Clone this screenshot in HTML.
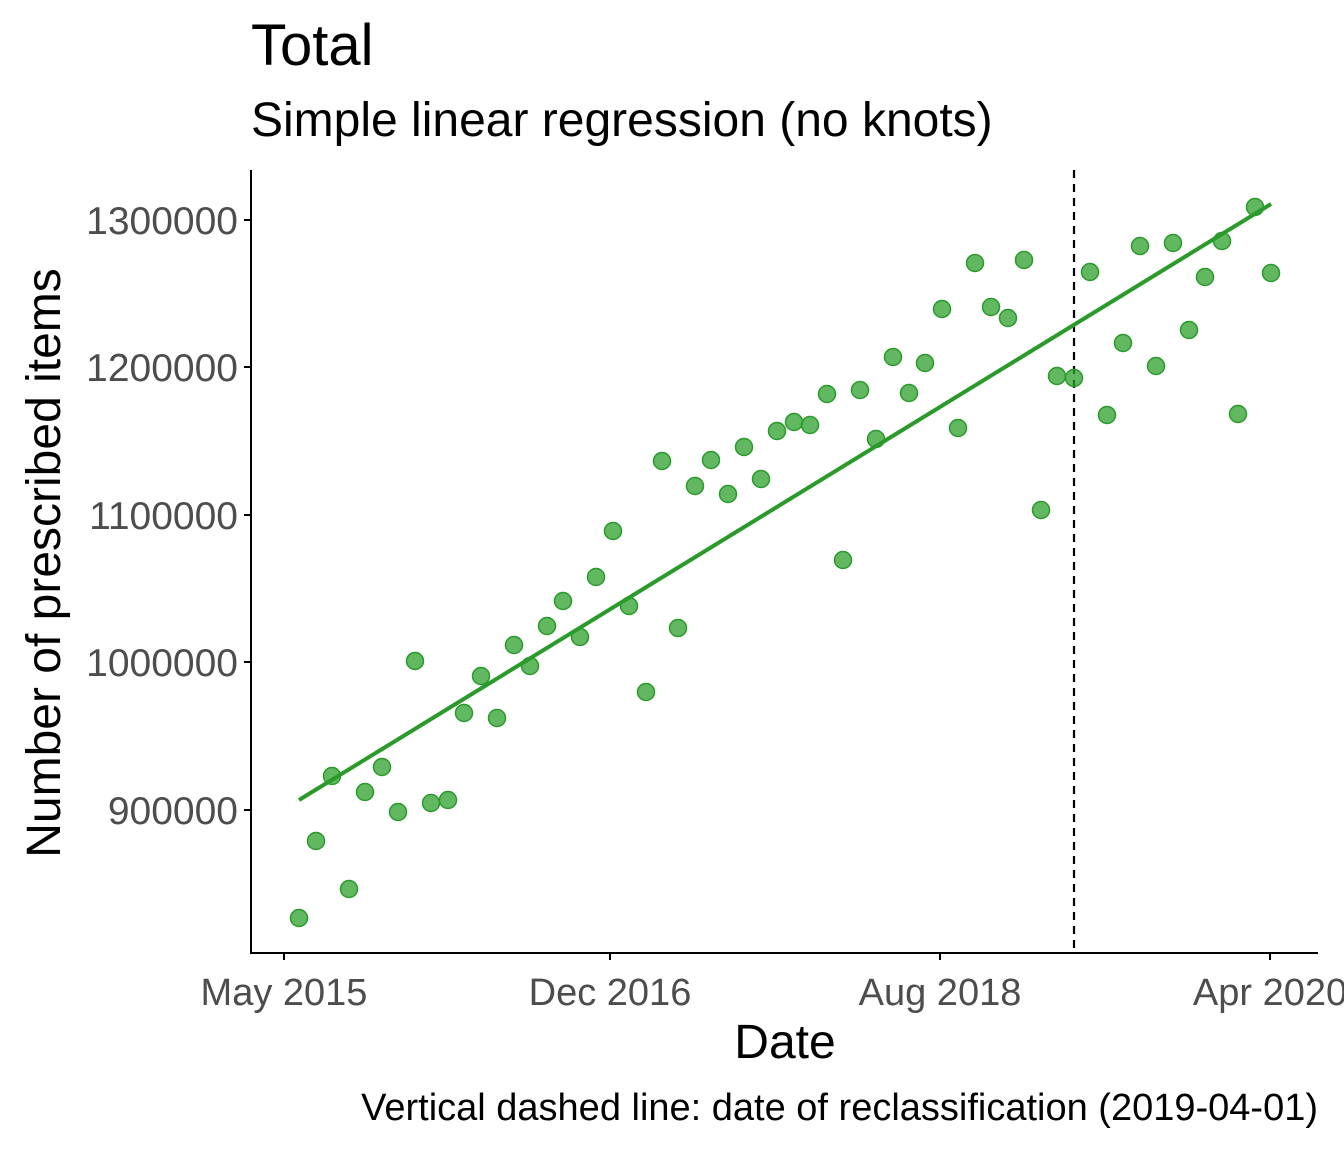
<!DOCTYPE html>
<html><head><meta charset="utf-8"><style>
html,body{margin:0;padding:0;background:#fff;}
svg{display:block;font-family:"Liberation Sans",Arial,sans-serif;}
</style></head><body>
<svg width="1344" height="1152" viewBox="0 0 1344 1152" xmlns="http://www.w3.org/2000/svg">
<rect width="1344" height="1152" fill="#fff"/>
<text x="251" y="65" font-size="58" fill="#000">Total</text>
<text x="251" y="136" font-size="48" fill="#000">Simple linear regression (no knots)</text>
<line x1="1074" y1="170" x2="1074" y2="953" stroke="#000" stroke-width="2.2" stroke-dasharray="8,6"/>
<g fill="#2ca02c" fill-opacity="0.75" stroke="#2a9a2a" stroke-width="1.5">
<circle cx="299" cy="918" r="8.5"/><circle cx="316" cy="841" r="8.5"/><circle cx="332" cy="776" r="8.5"/><circle cx="349" cy="889" r="8.5"/><circle cx="365" cy="792" r="8.5"/><circle cx="382" cy="767" r="8.5"/><circle cx="398" cy="812" r="8.5"/><circle cx="415" cy="661" r="8.5"/><circle cx="431" cy="803" r="8.5"/><circle cx="448" cy="800" r="8.5"/><circle cx="464" cy="713" r="8.5"/><circle cx="481" cy="676" r="8.5"/><circle cx="497" cy="718" r="8.5"/><circle cx="514" cy="645" r="8.5"/><circle cx="530" cy="666" r="8.5"/><circle cx="547" cy="626" r="8.5"/><circle cx="563" cy="601" r="8.5"/><circle cx="580" cy="637" r="8.5"/><circle cx="596" cy="577" r="8.5"/><circle cx="613" cy="531" r="8.5"/><circle cx="629" cy="606" r="8.5"/><circle cx="646" cy="692" r="8.5"/><circle cx="662" cy="461" r="8.5"/><circle cx="678" cy="628" r="8.5"/><circle cx="695" cy="486" r="8.5"/><circle cx="711" cy="460" r="8.5"/><circle cx="728" cy="494" r="8.5"/><circle cx="744" cy="447" r="8.5"/><circle cx="761" cy="479" r="8.5"/><circle cx="777" cy="431" r="8.5"/><circle cx="794" cy="422" r="8.5"/><circle cx="810" cy="425" r="8.5"/><circle cx="827" cy="394" r="8.5"/><circle cx="843" cy="560" r="8.5"/><circle cx="860" cy="390" r="8.5"/><circle cx="876" cy="439" r="8.5"/><circle cx="893" cy="357" r="8.5"/><circle cx="909" cy="393" r="8.5"/><circle cx="925" cy="363" r="8.5"/><circle cx="942" cy="309" r="8.5"/><circle cx="958" cy="428" r="8.5"/><circle cx="975" cy="263" r="8.5"/><circle cx="991" cy="307" r="8.5"/><circle cx="1008" cy="318" r="8.5"/><circle cx="1024" cy="260" r="8.5"/><circle cx="1041" cy="510" r="8.5"/><circle cx="1057" cy="376" r="8.5"/><circle cx="1074" cy="378" r="8.5"/><circle cx="1090" cy="272" r="8.5"/><circle cx="1107" cy="415" r="8.5"/><circle cx="1123" cy="343" r="8.5"/><circle cx="1140" cy="246" r="8.5"/><circle cx="1156" cy="366" r="8.5"/><circle cx="1173" cy="243" r="8.5"/><circle cx="1189" cy="330" r="8.5"/><circle cx="1205" cy="277" r="8.5"/><circle cx="1222" cy="241" r="8.5"/><circle cx="1238" cy="414" r="8.5"/><circle cx="1255" cy="207" r="8.5"/><circle cx="1271" cy="273" r="8.5"/>
</g>
<line x1="299" y1="800" x2="1271" y2="204" stroke="#2a9a2a" stroke-width="4"/>
<g stroke="#000" stroke-width="2">
<line x1="251" y1="170" x2="251" y2="954"/>
<line x1="250" y1="953" x2="1318" y2="953"/>
<line x1="244" y1="220" x2="251" y2="220"/><line x1="244" y1="367" x2="251" y2="367"/><line x1="244" y1="515" x2="251" y2="515"/><line x1="244" y1="662" x2="251" y2="662"/><line x1="244" y1="810" x2="251" y2="810"/>
<line x1="284" y1="953" x2="284" y2="960"/><line x1="610" y1="953" x2="610" y2="960"/><line x1="940" y1="953" x2="940" y2="960"/><line x1="1270" y1="953" x2="1270" y2="960"/>
</g>
<g font-size="39" fill="#4d4d4d" text-anchor="end">
<text x="238" y="234">1300000</text><text x="238" y="381">1200000</text><text x="238" y="529">1100000</text><text x="238" y="676">1000000</text><text x="238" y="824">900000</text>
</g>
<g font-size="38" fill="#4d4d4d" text-anchor="middle">
<text x="284" y="1005">May 2015</text><text x="610" y="1005">Dec 2016</text><text x="940" y="1005">Aug 2018</text><text x="1270" y="1005">Apr 2020</text>
</g>
<text x="785" y="1058" font-size="48" text-anchor="middle" fill="#000">Date</text>
<text transform="translate(60,563) rotate(-90)" font-size="48" text-anchor="middle" fill="#000">Number of prescribed items</text>
<text x="1318" y="1120" font-size="38" text-anchor="end" fill="#000">Vertical dashed line: date of reclassification (2019-04-01)</text>
</svg>
</body></html>
